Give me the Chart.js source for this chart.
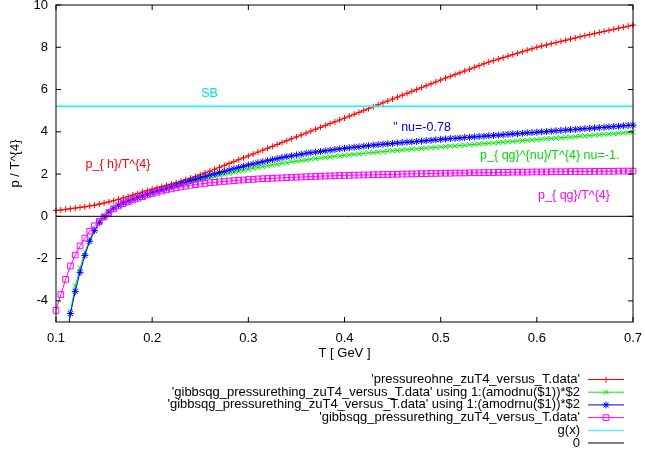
<!DOCTYPE html>
<html><head><meta charset="utf-8">
<script src="https://cdn.jsdelivr.net/npm/chart.js@4.4.1/dist/chart.umd.min.js"></script>
<style>html,body{margin:0;padding:0;background:#fff;}canvas{display:block;}</style>
</head><body>
<canvas id="c" width="645" height="449"></canvas>
<script>
// ---------- data ----------
const T = [
0.100,0.105,0.110,0.115,0.120,0.125,0.130,0.135,0.140,0.145,
0.150,0.155,0.160,0.165,0.170,0.175,0.180,0.185,0.190,0.195,
0.200,0.205,0.210,0.215,0.220,0.225,0.230,0.235,0.240,0.245,
0.250,0.255,0.260,0.265,0.270,0.275,0.280,0.285,0.290,0.295,
0.300,0.305,0.310,0.315,0.320,0.325,0.330,0.335,0.340,0.345,
0.350,0.355,0.360,0.365,0.370,0.375,0.380,0.385,0.390,0.395,
0.400,0.405,0.410,0.415,0.420,0.425,0.430,0.435,0.440,0.445,
0.450,0.455,0.460,0.465,0.470,0.475,0.480,0.485,0.490,0.495,
0.500,0.505,0.510,0.515,0.520,0.525,0.530,0.535,0.540,0.545,
0.550,0.555,0.560,0.565,0.570,0.575,0.580,0.585,0.590,0.595,
0.600,0.605,0.610,0.615,0.620,0.625,0.630,0.635,0.640,0.645,
0.650,0.655,0.660,0.665,0.670,0.675,0.680,0.685,0.690,0.695,
0.700];

const pHadron = [
0.28,0.30,0.33,0.36,0.39,0.42,0.45,0.49,0.53,0.58,
0.63,0.68,0.74,0.80,0.87,0.94,1.01,1.08,1.15,1.22,
1.29,1.35,1.41,1.47,1.53,1.59,1.66,1.74,1.81,1.89,
1.97,2.06,2.14,2.23,2.32,2.41,2.50,2.59,2.68,2.77,
2.86,2.95,3.04,3.13,3.22,3.31,3.40,3.49,3.58,3.67,
3.76,3.85,3.94,4.03,4.12,4.21,4.30,4.39,4.47,4.56,
4.65,4.74,4.83,4.92,5.01,5.10,5.19,5.28,5.37,5.46,
5.55,5.64,5.73,5.82,5.91,6.00,6.09,6.18,6.27,6.36,
6.45,6.54,6.62,6.71,6.79,6.88,6.96,7.05,7.13,7.22,
7.30,7.37,7.44,7.51,7.58,7.65,7.72,7.79,7.86,7.93,
8.00,8.06,8.11,8.17,8.22,8.28,8.33,8.39,8.44,8.50,
8.55,8.60,8.65,8.70,8.75,8.80,8.85,8.90,8.95,9.00,
9.05];

const pNu = [
-12.5,-9.0,-6.3,-4.5,-3.3,-2.45,-1.70,-1.08,-0.60,-0.24,
0.02,0.22,0.39,0.52,0.63,0.72,0.80,0.88,0.95,1.02,
1.09,1.16,1.23,1.29,1.35,1.42,1.48,1.54,1.60,1.66,
1.72,1.77,1.83,1.88,1.93,1.98,2.03,2.08,2.13,2.18,
2.23,2.27,2.31,2.35,2.39,2.43,2.47,2.51,2.54,2.58,
2.61,2.64,2.67,2.70,2.73,2.76,2.79,2.81,2.84,2.86,
2.89,2.91,2.93,2.96,2.98,3.00,3.02,3.04,3.06,3.08,
3.10,3.12,3.14,3.16,3.18,3.19,3.21,3.23,3.25,3.26,
3.28,3.30,3.32,3.33,3.35,3.37,3.39,3.40,3.42,3.44,
3.46,3.47,3.49,3.51,3.53,3.54,3.56,3.58,3.60,3.61,
3.63,3.65,3.67,3.68,3.70,3.72,3.74,3.75,3.77,3.79,
3.81,3.82,3.84,3.86,3.88,3.89,3.91,3.93,3.95,3.96,
3.98];

const pRnu = [
-11.5,-8.5,-6.2,-4.6,-3.55,-2.65,-1.85,-1.18,-0.68,-0.30,
-0.03,0.20,0.38,0.52,0.63,0.72,0.80,0.88,0.96,1.04,
1.12,1.19,1.27,1.34,1.41,1.48,1.55,1.62,1.69,1.76,
1.82,1.89,1.95,2.01,2.07,2.13,2.19,2.25,2.31,2.37,
2.43,2.48,2.53,2.58,2.63,2.68,2.73,2.78,2.82,2.86,
2.90,2.94,2.98,3.01,3.04,3.07,3.10,3.13,3.16,3.19,
3.22,3.24,3.27,3.29,3.32,3.34,3.37,3.39,3.41,3.43,
3.45,3.47,3.49,3.51,3.52,3.54,3.56,3.58,3.60,3.62,
3.64,3.66,3.68,3.69,3.71,3.73,3.74,3.76,3.78,3.79,
3.81,3.83,3.84,3.86,3.88,3.90,3.91,3.93,3.95,3.96,
3.98,4.00,4.01,4.03,4.05,4.06,4.08,4.10,4.11,4.13,
4.15,4.16,4.18,4.20,4.21,4.23,4.25,4.26,4.28,4.30,
4.31];

const pQg = [
-4.45,-3.70,-2.98,-2.35,-1.83,-1.40,-1.03,-0.70,-0.45,-0.24,
-0.03,0.17,0.35,0.49,0.60,0.69,0.77,0.85,0.93,1.01,
1.08,1.14,1.20,1.25,1.30,1.35,1.39,1.43,1.47,1.50,
1.53,1.56,1.59,1.61,1.63,1.65,1.67,1.69,1.71,1.72,
1.74,1.75,1.77,1.78,1.79,1.80,1.81,1.82,1.83,1.84,
1.85,1.86,1.87,1.88,1.89,1.90,1.91,1.91,1.92,1.93,
1.93,1.94,1.95,1.95,1.96,1.96,1.97,1.97,1.98,1.98,
1.99,1.99,2.00,2.00,2.01,2.01,2.02,2.02,2.03,2.03,
2.04,2.04,2.04,2.05,2.05,2.05,2.06,2.06,2.06,2.07,
2.07,2.07,2.08,2.08,2.08,2.09,2.09,2.09,2.09,2.10,
2.10,2.10,2.10,2.11,2.11,2.11,2.11,2.12,2.12,2.12,
2.12,2.12,2.13,2.13,2.13,2.13,2.13,2.14,2.14,2.14,
2.14];

const SB = 5.21;             // g(x)
const ZERO = 0;              // 0
const xRange = [0.1, 0.7];
const yRange = [-5, 10];
const xTicks = [0.1, 0.2, 0.3, 0.4, 0.5, 0.6, 0.7];
const yTicks = [-4, -2, 0, 2, 4, 6, 8, 10];

const seriesLabels = [
  "'pressureohne_zuT4_versus_T.data'",
  "'gibbsqg_pressurething_zuT4_versus_T.data' using 1:(amodnu($1))*$2",
  "'gibbsqg_pressurething_zuT4_versus_T.data' using 1:(amodrnu($1))*$2",
  "'gibbsqg_pressurething_zuT4_versus_T.data'",
  "g(x)",
  "0"
];

const noteTexts = ["SB", "p_{ h}/T^{4}", "\" nu=-0.78", "p_{ qg}^{nu}/T^{4} nu=-1.", "p_{ qg}/T^{4}"];
const noteX = [0.251, 0.1307, 0.4507, 0.541, 0.6013];
const noteY = [5.8, 2.46, 4.18, 2.89, 0.99];
const noteColors = ["#00e0e0", "#ff0000", "#0000ff", "#00dd00", "#ff00ff"];

// ---------- chart ----------
const FONT = "'Liberation Sans', Arial, Helvetica, sans-serif";
Chart.defaults.font.family = FONT;
Chart.defaults.font.size = 13;
Chart.defaults.color = '#000';

const pts = arr => T.map((t, i) => ({x: t, y: arr[i]}));
const clipLR = {left: 6, right: 6, top: 0, bottom: 0};

const datasets = [
  {label: seriesLabels[0], data: pts(pHadron), borderColor: '#ff0000', pointBorderColor: '#ff0000',
   pointStyle: 'cross', pointRadius: 3, order: 6},
  {label: seriesLabels[1], data: pts(pNu), borderColor: '#00ee00', pointBorderColor: '#00ee00',
   pointStyle: 'crossRot', pointRadius: 3.5, order: 5},
  {label: seriesLabels[2], data: pts(pRnu), borderColor: '#0000ff', pointBorderColor: '#0000ff',
   pointStyle: 'star', pointRadius: 3.5, order: 4},
  {label: seriesLabels[3], data: pts(pQg), borderColor: '#ff00ff', pointBorderColor: '#ff00ff',
   pointStyle: 'rect', pointRadius: 4, order: 3},
  {label: seriesLabels[4], data: [{x: xRange[0], y: SB}, {x: xRange[1], y: SB}], borderColor: '#00ffff',
   pointRadius: 0, borderWidth: 1.5, order: 2},
  {label: seriesLabels[5], data: [{x: xRange[0], y: ZERO}, {x: xRange[1], y: ZERO}], borderColor: '#000000',
   pointRadius: 0, order: 1}
].map(d => Object.assign({borderWidth: 1, pointBorderWidth: 1, pointBackgroundColor: 'rgba(0,0,0,0)',
  tension: 0, fill: false, clip: clipLR, pointHoverRadius: 0}, d));

function noPad(s) { s.paddingTop = 0; s.paddingBottom = 0; s.paddingLeft = 0; s.paddingRight = 0; }

const framePlugin = {
  id: 'frame',
  afterDatasetsDraw(chart) {
    const {ctx, chartArea: a, scales: {x, y}} = chart;
    ctx.save();
    ctx.strokeStyle = '#000';
    ctx.lineWidth = 1;
    ctx.strokeRect(a.left, a.top, a.right - a.left, a.bottom - a.top);
    ctx.beginPath();
    const L = 5;
    x.ticks.forEach(t => {
      const px = x.getPixelForValue(t.value);
      ctx.moveTo(px, a.bottom); ctx.lineTo(px, a.bottom - L);
      ctx.moveTo(px, a.top); ctx.lineTo(px, a.top + L);
    });
    y.ticks.forEach(t => {
      const py = y.getPixelForValue(t.value);
      ctx.moveTo(a.left, py); ctx.lineTo(a.left + L, py);
      ctx.moveTo(a.right, py); ctx.lineTo(a.right - L, py);
    });
    ctx.stroke();
    // in-plot labels
    ctx.font = '12.5px ' + FONT;
    ctx.textAlign = 'left';
    ctx.textBaseline = 'middle';
    noteTexts.forEach((s, i) => {
      ctx.fillStyle = noteColors[i];
      ctx.fillText(s, x.getPixelForValue(noteX[i]), y.getPixelForValue(noteY[i]));
    });
    ctx.restore();
  },
  afterDraw(chart) {
    const {ctx} = chart;
    ctx.save();
    ctx.font = '13px ' + FONT;
    ctx.textAlign = 'right';
    ctx.textBaseline = 'middle';
    chart.data.datasets.forEach((d, i) => {
      const yy = 379.5 + i * 12.7;
      ctx.fillStyle = '#000';
      ctx.fillText(d.label, 580, yy);
      ctx.strokeStyle = d.borderColor;
      ctx.lineWidth = 1;
      ctx.beginPath(); ctx.moveTo(588, yy); ctx.lineTo(624, yy); ctx.stroke();
      if (d.pointRadius > 0 && Chart.helpers && Chart.helpers.drawPoint) {
        ctx.fillStyle = 'rgba(0,0,0,0)';
        Chart.helpers.drawPoint(ctx, {pointStyle: d.pointStyle, radius: d.pointRadius, rotation: 0, borderWidth: 1}, 606, yy);
      }
    });
    ctx.restore();
  }
};

new Chart(document.getElementById('c'), {
  type: 'line',
  data: {datasets},
  options: {
    responsive: false,
    animation: false,
    devicePixelRatio: 1,
    layout: {padding: {left: 0, top: 5, right: 12, bottom: 88}},
    plugins: {legend: {display: false}, tooltip: {enabled: false}},
    scales: {
      x: {
        type: 'linear', min: xRange[0], max: xRange[1],
        afterBuildTicks: s => { s.ticks = xTicks.map(v => ({value: v})); },
        afterFit: s => { s.height = 39; noPad(s); },
        grid: {display: false, drawTicks: false},
        border: {display: false},
        ticks: {padding: 9, font: {size: 13}, callback: v => String(v)},
        title: {display: true, text: 'T [ GeV ]', padding: {top: 0, bottom: 0}, font: {size: 13}}
      },
      y: {
        type: 'linear', min: yRange[0], max: yRange[1],
        afterBuildTicks: s => { s.ticks = yTicks.map(v => ({value: v})); },
        afterFit: s => { s.width = 56; noPad(s); },
        grid: {display: false, drawTicks: false},
        border: {display: false},
        ticks: {padding: 8, font: {size: 13}, callback: v => String(v)},
        title: {display: true, text: 'p / T^{4}', padding: {top: 8, bottom: 0}, font: {size: 13}}
      }
    }
  },
  plugins: [framePlugin]
});
</script>
</body></html>
